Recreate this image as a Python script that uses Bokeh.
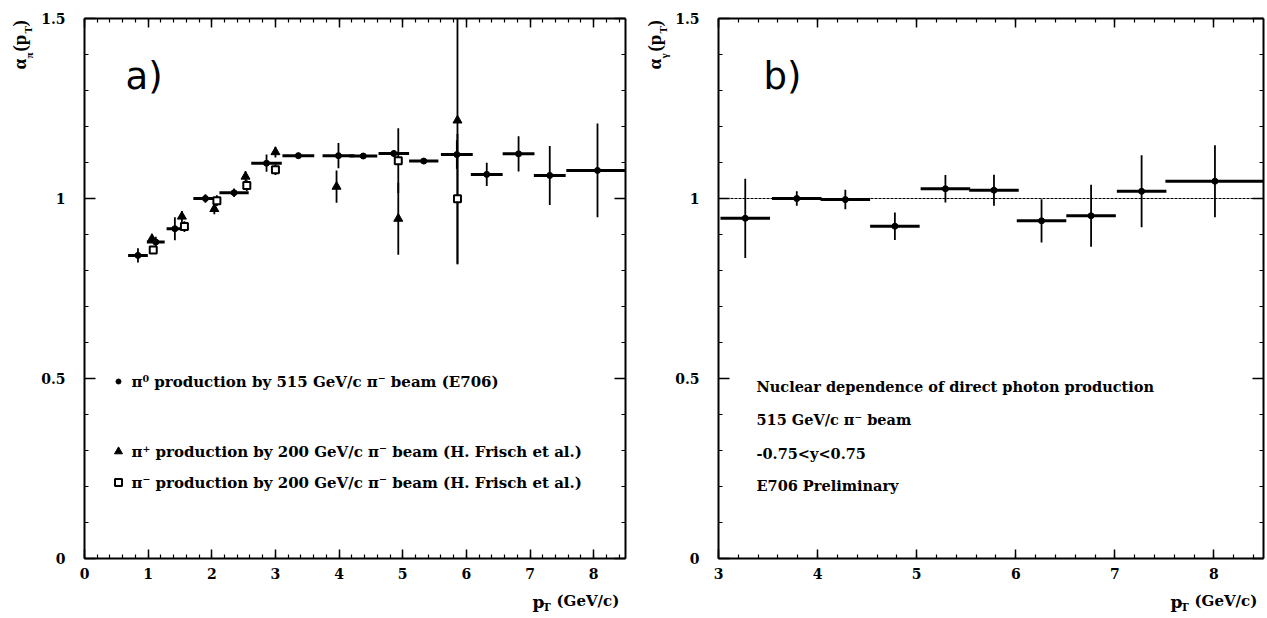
import numpy as np
from math import pi
from bokeh.plotting import figure
from bokeh.layouts import row
from bokeh.models import FixedTicker, LinearAxis, Label, Range1d, CustomJSTickFormatter
from bokeh.embed import file_html
from bokeh.resources import INLINE

# ---------------- data: panel a) ----------------
# E706 pi0 (515 GeV/c pi- beam)
pi0_pt   = [0.84, 1.12, 1.42, 1.90, 2.35, 2.86, 3.36, 3.99, 4.38, 4.86, 5.33, 5.85, 6.32, 6.82, 7.31, 8.06]
pi0_alp  = [0.842, 0.879, 0.916, 1.000, 1.016, 1.098, 1.119, 1.119, 1.118, 1.125, 1.104, 1.122, 1.067, 1.124, 1.064, 1.078]
pi0_xerr = [0.155, 0.14, 0.13, 0.19, 0.23, 0.24, 0.25, 0.25, 0.22, 0.24, 0.23, 0.25, 0.25, 0.25, 0.25, 0.49]
pi0_yerr = [0.02, 0.015, 0.032, 0.012, 0.012, 0.024, 0.008, 0.035, 0.008, 0.01, 0.008, 0.04, 0.032, 0.049, 0.082, 0.13]

# Frisch et al. pi+ (200 GeV/c)
pip_pt   = [1.06, 1.53, 2.04, 2.53, 3.00, 3.96, 4.93, 5.86]
pip_alp  = [0.888, 0.950, 0.971, 1.061, 1.129, 1.033, 0.944, 1.217]
pip_yerr = [0.01, 0.015, 0.015, 0.015, 0.015, 0.045, 0.10, 0.40]

# Frisch et al. pi- (200 GeV/c)
pim_pt   = [1.08, 1.57, 2.08, 2.55, 3.00, 4.93, 5.86]
pim_alp  = [0.857, 0.922, 0.994, 1.036, 1.080, 1.105, 0.999]
pim_yerr = [0.01, 0.015, 0.015, 0.015, 0.015, 0.09, 0.18]

# ---------------- data: panel b) ----------------
gam_pt   = [3.27, 3.79, 4.28, 4.78, 5.29, 5.78, 6.26, 6.76, 7.27, 8.01]
gam_alp  = [0.945, 1.000, 0.997, 0.923, 1.027, 1.023, 0.938, 0.952, 1.020, 1.048]
gam_xerr = [0.25, 0.25, 0.25, 0.25, 0.25, 0.25, 0.25, 0.25, 0.25, 0.50]
gam_yerr = [0.11, 0.02, 0.027, 0.038, 0.038, 0.043, 0.06, 0.086, 0.10, 0.10]

yticks = [0, 0.5, 1, 1.5]
ytick_labels = {0: "0", 0.5: "0.5", 1: "1", 1.5: "1.5"}

legend_a = ["\u03c0\u2070 production by 515 GeV/c \u03c0\u207b beam (E706)",
            "\u03c0\u207a production by 200 GeV/c \u03c0\u207b beam (H. Frisch et al.)",
            "\u03c0\u207b production by 200 GeV/c \u03c0\u207b beam (H. Frisch et al.)"]
notes_b = ["Nuclear dependence of direct photon production",
           "515 GeV/c \u03c0\u207b beam",
           "-0.75<y<0.75",
           "E706 Preliminary"]

SERIF = "Liberation Serif"
TXT = "DejaVu Serif"
H = 618
FB = 558      # canvas y of alpha = 0
FT = 18       # canvas y of alpha = 1.5
Y0, Y1 = 0.0, 1.5


def make_fig(width, xa, xb, left_px, right_px, xticks, xminor):
    """Frame covers the whole canvas; axes are pinned at the data edges."""
    sx = (right_px - left_px) / (xb - xa)
    sy = (FB - FT) / (Y1 - Y0)
    xr = Range1d(xa - left_px / sx, xb + (width - right_px) / sx)
    yr = Range1d(Y0 - (H - FB) / sy, Y1 + FT / sy)
    p = figure(width=width, height=H, x_range=xr, y_range=yr, title=None,
               output_backend="svg", toolbar_location=None,
               min_border_left=0, min_border_right=0, min_border_top=0, min_border_bottom=0)
    p.grid.visible = False
    p.outline_line_color = None
    p.background_fill_color = "white"
    p.border_fill_color = "white"
    ymin = list(np.round(np.arange(0, 1.51, 0.1), 3))
    blank = CustomJSTickFormatter(code="return ''")

    bottom, left = p.xaxis[0], p.yaxis[0]
    top = LinearAxis(formatter=blank, major_label_text_color=None, major_label_text_font_size="1px")
    right = LinearAxis(formatter=blank, major_label_text_color=None, major_label_text_font_size="1px")
    p.add_layout(top, "above")
    p.add_layout(right, "right")
    for ax in (bottom, top):
        ax.ticker = FixedTicker(ticks=xticks, minor_ticks=xminor)
        ax.bounds = (xa, xb)
        ax.major_tick_in = 9
        ax.minor_tick_in = 4
    for ax in (left, right):
        ax.ticker = FixedTicker(ticks=yticks, minor_ticks=ymin)
        ax.bounds = (Y0, Y1)
        ax.major_tick_in = 11
        ax.minor_tick_in = 4
    bottom.fixed_location = Y0
    top.fixed_location = Y1
    left.fixed_location = xa
    right.fixed_location = xb
    for ax in (bottom, top, left, right):
        ax.axis_line_width = 2
        ax.major_tick_out = 0
        ax.minor_tick_out = 0
        ax.major_tick_line_width = 1.5
        ax.minor_tick_line_width = 1.2
    for ax in (bottom, left):
        ax.major_label_text_font = TXT
        ax.major_label_text_font_style = "bold"
        ax.major_label_text_font_size = "14px"
        ax.major_label_text_color = "black"
    bottom.major_label_standoff = 9
    left.major_label_standoff = 19
    left.major_label_overrides = ytick_labels
    conv_x = lambda px: xa + (px - left_px) / sx
    conv_y = lambda py: Y0 + (FB - py) / sy
    return p, conv_x, conv_y


def errbars(p, x, y, xe, ye, xmax, hw=3, vw=1.8):
    x = np.array(x); y = np.array(y); xe = np.array(xe); ye = np.array(ye)
    if hw > 0:
        p.segment(x - xe, y, np.minimum(x + xe, xmax), y, line_color="black", line_width=hw)
    p.segment(x, np.maximum(y - ye, Y0), x, np.minimum(y + ye, Y1), line_color="black", line_width=vw)


def lab(p, x, y, text, size, style="bold", font=TXT, angle=0):
    p.add_layout(Label(x=x, y=y, text=text, text_font=font, text_font_size=f"{size}px",
                       text_font_style=style, text_color="black", angle=angle,
                       text_align="left", text_baseline="middle"))


rot = pi / 2

# ---------- panel a ----------
xt_a = list(range(0, 9))
xm_a = list(np.round(np.arange(0, 8.5, 0.2), 3))
pa, ax_, ay_ = make_fig(640, 0.0, 8.5, 84, 625, xt_a, xm_a)

errbars(pa, pi0_pt, pi0_alp, pi0_xerr, pi0_yerr, 8.5)
pa.scatter(pi0_pt, pi0_alp, size=6, marker="circle", color="black")
errbars(pa, pip_pt, pip_alp, [0] * len(pip_pt), pip_yerr, 8.5, hw=0, vw=1.8)
pa.scatter(pip_pt, pip_alp, size=9, marker="triangle", color="black")
errbars(pa, pim_pt, pim_alp, [0] * len(pim_pt), pim_yerr, 8.5, hw=0, vw=1.8)
pa.scatter(pim_pt, pim_alp, size=7, marker="square", fill_color="white", line_color="black", line_width=2)

# legend
leg_y = [381, 451, 482]
pa.scatter([ax_(118)], [ay_(leg_y[0])], size=5, marker="circle", color="black")
pa.scatter([ax_(118)], [ay_(leg_y[1])], size=8, marker="triangle", color="black")
pa.scatter([ax_(118)], [ay_(leg_y[2])], size=7, marker="square", fill_color="white", line_color="black", line_width=2)
for t, yy in zip(legend_a, leg_y):
    lab(pa, ax_(131), ay_(yy), t, 15)

lab(pa, ax_(125), ay_(76), "a)", 37, style="normal", font="DejaVu Sans")

# y label (rotated, composed)
lab(pa, ax_(19), ay_(69), "\u03b1", 19, style="bold", font=SERIF, angle=rot)
lab(pa, ax_(28), ay_(58), "\u03c0", 11, font=SERIF, angle=rot)
lab(pa, ax_(19), ay_(51), "(p", 19, style="bold", font=SERIF, angle=rot)
lab(pa, ax_(27), ay_(33), "T", 11, font=SERIF, angle=rot)
lab(pa, ax_(19), ay_(26), ")", 19, style="bold", font=SERIF, angle=rot)

# x label
lab(pa, ax_(532), ay_(601), "p", 17, font=TXT)
lab(pa, ax_(542), ay_(607), "T", 11, font=TXT)
lab(pa, ax_(556), ay_(600), "(GeV/c)", 15, font=TXT)

# ---------- panel b ----------
xt_b = list(range(3, 9))
xm_b = list(np.round(np.arange(3, 8.5, 0.2), 3))
pb, bx0, by_ = make_fig(627, 3.0, 8.5, 78, 623, xt_b, xm_b)
bx_ = lambda px: bx0(px - 640)

pb.line([3, 8.5], [1, 1], line_color="black", line_width=1, line_dash="3 1")
errbars(pb, gam_pt, gam_alp, gam_xerr, gam_yerr, 8.5)
pb.scatter(gam_pt, gam_alp, size=6, marker="circle", color="black")

note_y = [386, 419, 453, 485]
for t, yy in zip(notes_b, note_y):
    lab(pb, bx_(756), by_(yy), t, 14.5)

lab(pb, bx_(763), by_(76), "b)", 37, style="normal", font="DejaVu Sans")

lab(pb, bx_(654), by_(69), "\u03b1", 19, style="bold", font=SERIF, angle=rot)
lab(pb, bx_(663), by_(58), "\u03b3", 11, font=SERIF, angle=rot)
lab(pb, bx_(654), by_(51), "(p", 19, style="bold", font=SERIF, angle=rot)
lab(pb, bx_(662), by_(33), "T", 11, font=SERIF, angle=rot)
lab(pb, bx_(654), by_(26), ")", 19, style="bold", font=SERIF, angle=rot)

lab(pb, bx_(1170), by_(601), "p", 17, font=TXT)
lab(pb, bx_(1180), by_(607), "T", 11, font=TXT)
lab(pb, bx_(1194), by_(600), "(GeV/c)", 15, font=TXT)

layout = row(pa, pb)
open("out.html", "w").write(file_html(layout, INLINE))
